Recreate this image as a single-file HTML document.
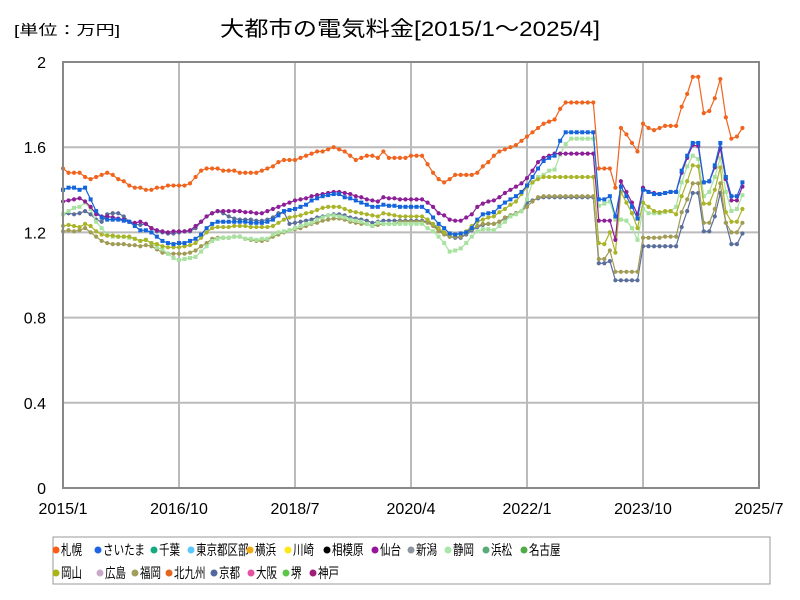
<!DOCTYPE html>
<html><head><meta charset="utf-8"><style>
body{margin:0;background:#fff;}
svg{display:block;font-family:"Liberation Sans","Noto Sans CJK JP",sans-serif;}
</style></head><body>
<svg id="chart" width="800" height="600" viewBox="0 0 800 600" xmlns="http://www.w3.org/2000/svg">
<rect width="800" height="600" fill="#fff"/>
<text x="14" y="35" font-size="14" textLength="106" lengthAdjust="spacingAndGlyphs">[単位：万円]</text>
<text x="220" y="36" font-size="21" textLength="380" lengthAdjust="spacingAndGlyphs">大都市の電気料金[2015/1～2025/4]</text>
<g id="grid"></g>
<g id="series"></g>
<rect x="63" y="62" width="696" height="426" fill="none" stroke="#888" stroke-width="2"/>
<g id="axes"></g>
<rect x="53" y="537" width="717" height="47" fill="#fff" stroke="#999" stroke-width="1"/>
<g id="legend"></g>
</svg>
<script>
const yTicks=[0,0.4,0.8,1.2,1.6,2];
const yTickLabels=["0","0.4","0.8","1.2","1.6","2"];
const xTickIdx=[0,21,42,63,84,105,126];
const xTickLabels=["2015/1","2016/10","2018/7","2020/4","2022/1","2023/10","2025/7"];
const sapporo=[1.50,1.48,1.48,1.48,1.46,1.45,1.46,1.47,1.48,1.47,1.45,1.44,1.42,1.41,1.41,1.40,1.40,1.41,1.41,1.42,1.42,1.42,1.42,1.43,1.46,1.49,1.50,1.50,1.50,1.49,
1.49,1.49,1.48,1.48,1.48,1.48,1.49,1.50,1.51,1.53,1.54,1.54,1.54,1.55,1.56,1.57,1.58,1.58,1.59,1.60,1.59,1.58,1.56,1.54,1.55,1.56,1.56,1.55,1.58,1.55,1.55,
1.55,1.55,1.56,1.56,1.56,1.52,1.48,1.45,1.435,1.45,1.47,1.47,1.47,1.47,1.48,1.51,1.53,1.56,1.58,1.59,1.60,1.61,1.63,1.65,1.67,1.69,1.71,1.72,1.73,1.78,
1.81,1.81,1.81,1.81,1.81,1.81,
1.50,1.50,1.50,1.41,1.69,1.66,1.62,1.58,1.71,1.69,1.68,1.69,1.70,1.70,1.70,1.79,1.85,1.93,1.93,1.76,1.77,1.83,1.92,1.74,1.64,1.65,1.69];
const saitama=[1.40,1.41,1.41,1.40,1.41,1.355,1.30,1.27,1.26,1.26,1.26,1.255,1.25,1.23,1.21,1.21,1.20,1.18,1.16,1.15,1.145,1.15,1.15,1.16,1.17,1.19,1.22,1.24,1.25,1.25,1.25,1.25,1.25,
1.25,1.245,1.245,1.245,1.25,1.26,1.28,1.30,1.305,1.31,1.32,1.33,1.35,1.36,1.37,1.375,1.38,1.38,1.365,1.36,1.35,1.34,1.33,1.32,1.32,1.33,1.325,1.325,
1.32,1.32,1.32,1.32,1.32,1.30,1.27,1.24,1.22,1.195,1.19,1.195,1.20,1.22,1.26,1.285,1.29,1.295,1.32,1.34,1.355,1.37,1.39,1.42,1.46,1.50,1.535,1.55,1.56,1.63,1.67,1.67,1.67,1.67,1.67,1.67,
1.355,1.355,1.37,1.275,1.415,1.37,1.32,1.265,1.40,1.39,1.38,1.38,1.385,1.39,1.39,1.49,1.56,1.62,1.62,1.435,1.44,1.515,1.62,1.46,1.37,1.37,1.435];
const sendai=[1.345,1.35,1.355,1.36,1.345,1.32,1.285,1.275,1.275,1.27,1.265,1.26,1.25,1.245,1.25,1.24,1.22,1.21,1.205,1.20,1.205,1.205,1.205,1.21,1.23,1.25,1.275,1.29,1.30,1.30,1.30,1.30,1.30,
1.295,1.295,1.29,1.29,1.30,1.31,1.32,1.33,1.34,1.35,1.355,1.36,1.37,1.375,1.38,1.385,1.39,1.39,1.385,1.38,1.37,1.365,1.355,1.35,1.345,1.365,1.36,1.36,
1.355,1.355,1.355,1.355,1.355,1.34,1.32,1.29,1.28,1.26,1.255,1.255,1.27,1.285,1.32,1.335,1.345,1.35,1.365,1.385,1.40,1.415,1.43,1.455,1.49,1.53,1.55,1.56,1.57,1.57,1.57,1.57,1.57,1.57,1.57,1.57,
1.255,1.255,1.255,1.165,1.44,1.39,1.34,1.285,1.41,1.39,1.385,1.38,1.385,1.39,1.39,1.48,1.55,1.61,1.605,1.435,1.44,1.505,1.595,1.45,1.35,1.35,1.415];
const shizuoka=[1.285,1.30,1.315,1.32,1.34,1.31,1.25,1.22,1.19,1.18,1.18,1.18,1.175,1.17,1.16,1.165,1.15,1.13,1.12,1.10,1.08,1.07,1.075,1.08,1.085,1.11,1.135,1.16,1.17,1.175,1.175,1.18,1.18,
1.17,1.17,1.165,1.17,1.17,1.19,1.20,1.205,1.21,1.22,1.23,1.24,1.245,1.26,1.27,1.28,1.28,1.275,1.27,1.26,1.255,1.25,1.24,1.23,1.245,1.24,1.24,1.24,
1.24,1.24,1.24,1.24,1.24,1.22,1.205,1.18,1.15,1.11,1.115,1.125,1.15,1.18,1.205,1.215,1.215,1.21,1.23,1.25,1.275,1.285,1.30,1.355,1.435,1.46,1.47,1.49,1.495,1.565,1.615,1.64,1.64,1.64,1.64,1.64,
1.325,1.335,1.345,1.26,1.26,1.255,1.22,1.165,1.31,1.29,1.29,1.29,1.295,1.30,1.32,1.435,1.51,1.56,1.545,1.37,1.39,1.46,1.55,1.39,1.30,1.31,1.375];
const okayama=[1.23,1.235,1.23,1.225,1.24,1.23,1.205,1.19,1.185,1.185,1.18,1.18,1.18,1.17,1.16,1.165,1.15,1.145,1.135,1.13,1.13,1.13,1.135,1.14,1.15,1.175,1.20,1.22,1.225,1.225,1.225,1.23,1.23,
1.23,1.225,1.225,1.225,1.225,1.23,1.245,1.26,1.27,1.275,1.28,1.29,1.295,1.305,1.315,1.32,1.32,1.32,1.31,1.30,1.295,1.29,1.285,1.28,1.275,1.29,1.285,1.28,
1.275,1.275,1.275,1.275,1.275,1.26,1.24,1.22,1.20,1.19,1.19,1.195,1.205,1.23,1.25,1.26,1.27,1.275,1.295,1.31,1.33,1.345,1.38,1.415,1.435,1.45,1.46,1.46,1.46,1.46,1.46,1.46,1.46,1.46,1.46,1.46,
1.15,1.145,1.20,1.105,1.39,1.34,1.29,1.22,1.34,1.32,1.30,1.295,1.30,1.30,1.285,1.37,1.44,1.515,1.51,1.335,1.335,1.40,1.505,1.295,1.25,1.25,1.31];
const fukuoka=[1.205,1.21,1.205,1.21,1.22,1.20,1.18,1.16,1.15,1.145,1.145,1.145,1.14,1.14,1.135,1.14,1.135,1.12,1.105,1.10,1.10,1.10,1.10,1.105,1.115,1.135,1.15,1.17,1.175,1.175,1.175,1.18,1.18,
1.17,1.165,1.16,1.16,1.165,1.18,1.19,1.20,1.21,1.215,1.22,1.23,1.24,1.245,1.255,1.26,1.265,1.265,1.26,1.25,1.245,1.24,1.24,1.23,1.235,1.24,1.24,1.24,
1.25,1.25,1.25,1.25,1.25,1.245,1.23,1.205,1.19,1.18,1.18,1.18,1.195,1.215,1.23,1.24,1.24,1.24,1.25,1.27,1.28,1.29,1.30,1.32,1.345,1.365,1.37,1.37,1.37,1.37,1.37,1.37,1.37,1.37,1.37,1.37,
1.075,1.075,1.115,1.015,1.015,1.015,1.015,1.015,1.175,1.175,1.175,1.175,1.18,1.18,1.18,1.295,1.355,1.43,1.43,1.245,1.245,1.31,1.43,1.245,1.20,1.20,1.245];
const kyoto=[1.285,1.29,1.285,1.29,1.30,1.285,1.26,1.25,1.285,1.29,1.29,1.275,1.25,1.24,1.235,1.24,1.22,1.205,1.20,1.195,1.195,1.20,1.205,1.205,1.22,1.25,1.275,1.29,1.30,1.29,1.275,1.265,1.26,
1.26,1.26,1.255,1.255,1.26,1.27,1.29,1.295,1.24,1.245,1.25,1.255,1.26,1.27,1.275,1.28,1.285,1.285,1.28,1.27,1.265,1.26,1.255,1.245,1.25,1.255,1.255,1.255,
1.255,1.255,1.255,1.255,1.255,1.25,1.235,1.21,1.195,1.18,1.175,1.175,1.19,1.21,1.225,1.235,1.24,1.24,1.25,1.265,1.28,1.29,1.30,1.34,1.35,1.36,1.365,1.365,1.365,1.365,1.365,1.365,1.365,1.365,1.365,1.365,
1.055,1.055,1.065,0.975,0.975,0.975,0.975,0.975,1.135,1.135,1.135,1.135,1.135,1.135,1.135,1.225,1.30,1.385,1.385,1.205,1.205,1.275,1.385,1.245,1.145,1.145,1.195];
const legendNames=["札幌","さいたま","千葉","東京都区部","横浜","川崎","相模原","仙台","新潟","静岡","浜松","名古屋","岡山","広島","福岡","北九州","京都","大阪","堺","神戸"];
const legendColors=["#ff5a14","#1e64e6","#14aa82","#5ac8fa","#f0aa14","#ffe614","#000000","#96149b","#8c96a0","#aae6aa","#5aaa78","#50aa46","#aab414","#c8aac8","#a0a05a","#e6641e","#50689b","#e650a0","#5ac846","#a01e78"];
const legendX=[53,95,151,188,247,285,324,372,408,445,483,521,53,97,132,166,211,248,283,310];

const NS="http://www.w3.org/2000/svg";
const X0=63,X1=759,Y0=488,Y1=62;
function xs(i){return X0+i*(X1-X0)/126;}
function ys(v){return Y0-v*(Y0-Y1)/2;}
function mk(tag,attrs,parent){const e=document.createElementNS(NS,tag);for(const k in attrs)e.setAttribute(k,attrs[k]);parent.appendChild(e);return e;}
const grid=document.getElementById('grid'),axes=document.getElementById('axes'),ser=document.getElementById('series'),leg=document.getElementById('legend');
yTicks.forEach((v,k)=>{
  if(v>0&&v<2){const l=mk('line',{x1:X0,x2:X1,y1:ys(v),y2:ys(v),stroke:'#bbb','stroke-width':2},grid);
  
  }
  const t=mk('text',{x:46,y:ys(v)+6,'font-size':16,'text-anchor':'end'},axes);
  t.textContent=yTickLabels[k];
  
  
});
xTickIdx.forEach((m,k)=>{
  if(k>0&&k<xTickIdx.length-1){const l=mk('line',{x1:xs(m),x2:xs(m),y1:Y1,y2:Y0,stroke:'#bbb','stroke-width':2},grid);
  
  }
  const t=mk('text',{x:xs(m),y:514,'font-size':16,'text-anchor':'middle'},axes);
  t.textContent=xTickLabels[k];
  
  
});
function drawSeries(data,color,name,square){
  const g=mk('g',{},ser);
  
  
  const pts=data.map((v,i)=>xs(i).toFixed(1)+','+ys(v).toFixed(1)).join(' ');
  const pl=mk('polyline',{points:pts,fill:'none',stroke:color,'stroke-width':1.2},g);
  
  
  data.forEach((v,i)=>{
    let m;
    if(square){m=mk('rect',{x:xs(i)-2,y:ys(v)-2,width:4,height:4,fill:color},g);}
    else{m=mk('circle',{cx:xs(i),cy:ys(v),r:2.1,fill:color},g);}
    
    
  });
}
drawSeries(kyoto,'#5a6e9b','kyoto-series',false);
drawSeries(fukuoka,'#a09b55','fukuoka-series',false);
drawSeries(shizuoka,'#a8e2a0','shizuoka-series',true);
drawSeries(okayama,'#aab428','okayama-series',false);
drawSeries(sendai,'#8c1e96','sendai-series',false);
drawSeries(saitama,'#1464dc','saitama-series',true);
drawSeries(sapporo,'#f0641e','sapporo-series',false);
legendNames.forEach((n,k)=>{
  const row=k<12?0:1;const y=row?573:550;
  const g=mk('g',{},leg);
  
  
  mk('circle',{cx:legendX[k]+3,cy:y,r:3.5,fill:legendColors[k]},g);
  const t=mk('text',{x:legendX[k]+8,y:y+5,'font-size':14,textLength:n.length*10.5,lengthAdjust:'spacingAndGlyphs'},g);
  t.textContent=n;
});
</script>
</body></html>
